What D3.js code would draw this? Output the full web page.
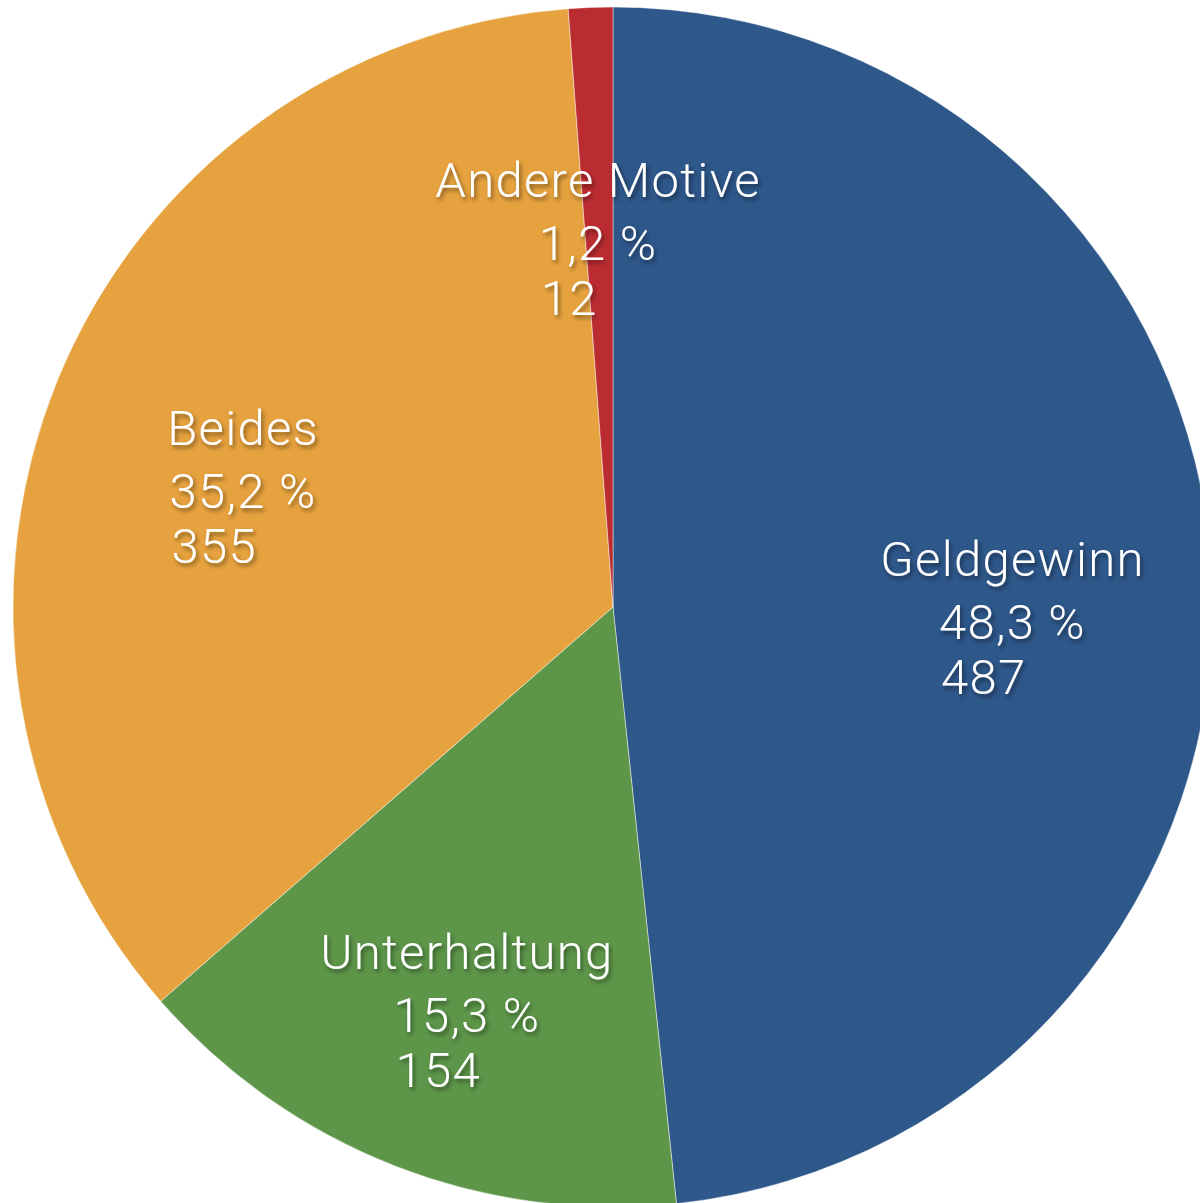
<!DOCTYPE html>
<html>
<head>
<meta charset="utf-8">
<script src="https://cdn.jsdelivr.net/npm/d3@7"></script>
<style>
  html, body { margin: 0; padding: 0; background: #ffffff; }
  svg { display: block; }
  .lbl { font-family: "Helvetica Neue", Roboto, "Liberation Sans", sans-serif; font-weight: 300; fill: #ffffff; font-size: 49px; letter-spacing: 1.3px; }
</style>
</head>
<body>
<script>
const categories = ["Geldgewinn", "Unterhaltung", "Beides", "Andere Motive"];
const counts = [487, 154, 355, 12];
const colors = ["#2E578A", "#5D9649", "#E6A23E", "#BB2C31"];

const W = 1200, H = 1203;
const cx = 613, cy = 607, R = 600;

const svg = d3.select("body").append("svg").attr("width", W).attr("height", H);

const defs = svg.append("defs");
const f = defs.append("filter").attr("id", "shadow").attr("x", "-20%").attr("y", "-20%").attr("width", "140%").attr("height", "160%");
f.append("feDropShadow").attr("dx", 2).attr("dy", 3).attr("stdDeviation", 2)
  .attr("flood-color", "#000").attr("flood-opacity", 0.45);

const data = categories.map((c, i) => ({ name: c, value: counts[i], color: colors[i] }));
const total = d3.sum(counts);

const pie = d3.pie().value(d => d.value).sort(null);
const arcs = pie(data);
const arc = d3.arc().innerRadius(0).outerRadius(R);
const labelArc = d3.arc().innerRadius(400).outerRadius(400);

const g = svg.append("g").attr("transform", `translate(${cx},${cy})`);

g.selectAll("path.slice").data(arcs).join("path")
  .attr("class", "slice")
  .attr("d", arc)
  .attr("fill", d => d.data.color)
  .attr("stroke", "rgba(255,255,255,0.45)")
  .attr("stroke-width", 1);

const fmt = v => (Math.round(v * 1000) / 10).toFixed(1).replace(".", ",") + " %";

const lg = g.selectAll("g.label").data(arcs).join("g")
  .attr("class", "label")
  .attr("filter", "url(#shadow)")
  .each(function(d) {
    const [x, y] = labelArc.centroid(d);
    const sel = d3.select(this);
    const base = y - 10;
    sel.append("text").attr("class", "lbl").attr("text-anchor", "middle")
      .attr("x", x).attr("y", base).text(d.data.name);
    const t2 = sel.append("text").attr("class", "lbl").attr("text-anchor", "middle")
      .attr("x", x).attr("y", base + 63).text(fmt(d.data.value / total));
    const w2 = t2.node().getComputedTextLength();
    sel.append("text").attr("class", "lbl").attr("text-anchor", "start")
      .attr("x", x - w2 / 2 + 2).attr("y", base + 118).text(d.data.value);
  });
</script>
</body>
</html>
